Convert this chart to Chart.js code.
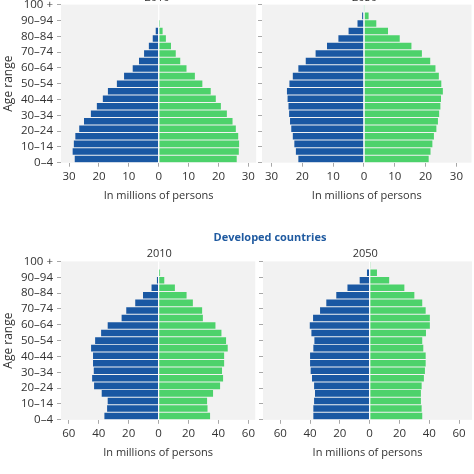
<!DOCTYPE html>
<html>
<head>
<meta charset="utf-8">
<script src="https://cdn.jsdelivr.net/npm/chart.js@4/dist/chart.umd.min.js"></script>
<style>
html,body{margin:0;padding:0;background:#fff;}
#wrap{position:relative;width:474px;height:474px;overflow:hidden;background:#fff;}
#wrap canvas{position:absolute;}
#heading{position:absolute;left:170px;top:229px;width:200px;text-align:center;font:bold 11px 'Open Sans',sans-serif;color:#1f5aa0;line-height:16px;white-space:nowrap;}
</style>
</head>
<body>
<div id="wrap">
  <canvas id="tl"></canvas>
  <canvas id="tr"></canvas>
  <canvas id="bl"></canvas>
  <canvas id="br"></canvas>
  <div id="heading">Developed countries</div>
</div>
<script>
// ---- Data (ordered from youngest to oldest age group) ----
const ageGroups = ['0–4','5–9','10–14','15–19','20–24','25–29','30–34','35–39','40–44','45–49',
                   '50–54','55–59','60–64','65–69','70–74','75–79','80–84','85–89','90–94','95–99','100 +'];

// Top row, 2010 (millions of persons)
const top2010Male   = [28.1, 28.8, 28.4, 27.9, 26.6, 25.0, 22.7, 20.7, 18.7, 17.0, 14.0, 11.6, 8.7, 6.6, 4.9, 3.3, 2.0, 1.0, 0, 0, 0];
const top2010Female = [26.1, 26.8, 26.9, 26.6, 25.8, 24.7, 22.8, 20.8, 19.1, 17.4, 14.6, 12.1, 9.3, 7.2, 5.7, 4.1, 2.4, 1.3, 0.4, 0, 0];
// Top row, 2050
const top2050Male   = [21.3, 22.1, 22.6, 23.1, 23.6, 24.0, 24.3, 24.5, 24.8, 25.0, 24.2, 23.1, 21.3, 18.9, 15.7, 12.0, 8.3, 5.0, 2.1, 0.6, 0.1];
const top2050Female = [21.0, 21.6, 22.2, 22.7, 23.5, 24.0, 24.4, 24.8, 25.0, 25.6, 25.1, 24.3, 23.2, 21.5, 18.8, 15.4, 11.6, 7.8, 4.0, 1.5, 0.3];
// Developed countries, 2010
const dev2010Male   = [36.2, 34.4, 34.0, 38.0, 43.1, 44.4, 43.3, 43.8, 43.8, 45.1, 42.4, 38.4, 34.0, 24.7, 21.6, 15.6, 10.4, 4.7, 1.1, 0, 0];
const dev2010Female = [34.4, 32.7, 32.4, 36.4, 41.1, 43.1, 42.4, 43.8, 43.8, 46.2, 45.1, 42.0, 38.0, 29.6, 29.1, 22.9, 18.7, 10.9, 3.8, 1.0, 0];
// Developed countries, 2050
const dev2050Male   = [37.8, 37.8, 37.3, 36.7, 37.3, 38.7, 39.6, 40.0, 40.0, 37.8, 37.1, 39.1, 40.2, 38.0, 33.3, 29.1, 22.4, 14.9, 6.7, 1.8, 0];
const dev2050Female = [35.3, 34.9, 34.4, 34.4, 34.9, 36.4, 37.1, 37.6, 37.6, 36.0, 35.3, 37.8, 40.4, 40.4, 37.6, 35.3, 30.0, 23.3, 13.1, 4.9, 0.5];

// Tick labels
const xTicksTop    = [-30, -20, -10, 0, 10, 20, 30];
const xTicksBottom = [-60, -40, -20, 0, 20, 40, 60];
const xAxisTitle = 'In millions of persons';
const yAxisTitle = 'Age range';

// ---- Styles ----
const BLUE = '#1a58a3';
const GREEN = '#4dd26b';
const PLOT_BG = '#f2f2f2';
const TXT = '#333333';
const TICKC = '#a8a8a8';
Chart.defaults.font.family = "'Open Sans', sans-serif";
Chart.defaults.color = TXT;

const panelPlugin = {
  id: 'panelTitle',
  beforeDraw(chart) {
    const a = chart.chartArea, ctx = chart.ctx;
    ctx.save();
    ctx.fillStyle = PLOT_BG;
    ctx.fillRect(a.left, a.top, a.right - a.left, a.bottom - a.top);
    ctx.restore();
  },
  afterDatasetsDraw(chart) {
    const a = chart.chartArea, ctx = chart.ctx;
    const x0 = chart.scales.x.getPixelForValue(0);
    ctx.save();
    ctx.strokeStyle = '#ffffff';
    ctx.lineWidth = 1.2;
    ctx.beginPath();
    ctx.moveTo(x0, a.top);
    ctx.lineTo(x0, a.bottom);
    ctx.stroke();
    ctx.restore();
  },
  afterDraw(chart, args, opts) {
    const a = chart.chartArea, ctx = chart.ctx;
    ctx.save();
    ctx.font = "11px 'Open Sans', sans-serif";
    ctx.fillStyle = TXT;
    ctx.textAlign = 'center';
    ctx.textBaseline = 'middle';
    ctx.fillText(opts.text, opts.cx, a.top - opts.gap);
    ctx.restore();
  }
};

function makePanel(p) {
  const canvas = document.getElementById(p.id);
  canvas.width = p.w; canvas.height = p.h;
  canvas.style.left = p.left + 'px'; canvas.style.top = p.top + 'px';
  canvas.style.width = p.w + 'px'; canvas.style.height = p.h + 'px';
  const yw = p.showLabels ? 61 : 4;
  const xh = 42;
  new Chart(canvas, {
    type: 'bar',
    data: {
      labels: ageGroups,
      datasets: [
        { label: 'Male', data: p.male.map(v => -v), backgroundColor: BLUE, yAxisID: 'yb',
          barPercentage: 0.87, categoryPercentage: 1, borderWidth: 0 },
        { label: 'Female', data: p.female, backgroundColor: GREEN, yAxisID: 'yb',
          barPercentage: 0.87, categoryPercentage: 1, borderWidth: 0 }
      ]
    },
    options: {
      indexAxis: 'y',
      responsive: false,
      animation: false,
      devicePixelRatio: 1,
      layout: { padding: {
        left: p.plot.l - p.left - yw,
        top: p.plot.t - p.top,
        right: p.left + p.w - p.plot.r,
        bottom: p.top + p.h - p.plot.b - xh } },
      plugins: {
        legend: { display: false },
        tooltip: { enabled: false },
        title: { display: false },
        panelTitle: { text: p.title, cx: p.titleX - p.left, gap: p.titleGap }
      },
      scales: {
        x: {
          type: 'linear', position: 'bottom', min: p.xmin, max: p.xmax, stacked: true,
          afterBuildTicks: s => { s.ticks = p.xticks.map(v => ({ value: v })); },
          afterFit: s => { s.height = xh; },
          grid: { drawOnChartArea: false, drawTicks: true, tickLength: 4, color: TICKC },
          border: { display: false },
          ticks: { color: TXT, font: { size: 11.5 }, padding: 3, maxRotation: 0, autoSkip: false,
                   callback: v => String(Math.abs(v)) },
          title: { display: true, text: xAxisTitle, color: TXT, font: { size: 11 }, padding: { top: 0, bottom: 2 } }
        },
        y: {
          type: 'category', position: 'left', reverse: true, offset: false,
          grid: { offset: false, drawOnChartArea: false, drawTicks: true, tickLength: 4,
                  color: c => (c.index % 2 === 0 ? TICKC : 'rgba(0,0,0,0)') },
          border: { display: false },
          afterFit: s => { s.width = yw; },
          ticks: { autoSkip: false, color: TXT, font: { size: 11.5 }, padding: 4,
                   callback: (v, i) => (p.showLabels && i % 2 === 0) ? ageGroups[i] : '' },
          title: { display: p.showLabels, text: yAxisTitle, color: TXT, font: { size: 12 }, padding: { top: 1, bottom: 0 } }
        },
        yb: { type: 'category', axis: 'y', display: false, reverse: true, offset: true, stacked: true }
      }
    },
    plugins: [panelPlugin]
  });
}

makePanel({ id: 'tl', left: 0, top: -30, w: 258, h: 240,
  plot: { l: 61, r: 256.7, t: 4.6, b: 162.7 }, xmin: -32.7, xmax: 32.6, xticks: xTicksTop,
  male: top2010Male, female: top2010Female, title: '2010', titleX: 157, titleGap: 6.5, showLabels: true });
makePanel({ id: 'tr', left: 258, top: -30, w: 216, h: 240,
  plot: { l: 262, r: 471.5, t: 4.6, b: 162.7 }, xmin: -33.1, xmax: 34.9, xticks: xTicksTop,
  male: top2050Male, female: top2050Female, title: '2050', titleX: 364.5, titleGap: 6.5, showLabels: false });
makePanel({ id: 'bl', left: 0, top: 240, w: 258, h: 234,
  plot: { l: 61, r: 256.7, t: 261.4, b: 419.8 }, xmin: -65.2, xmax: 64.6, xticks: xTicksBottom,
  male: dev2010Male, female: dev2010Female, title: '2010', titleX: 159.3, titleGap: 7.4, showLabels: true });
makePanel({ id: 'br', left: 259, top: 240, w: 215, h: 234,
  plot: { l: 263, r: 472, t: 261.4, b: 419.8 }, xmin: -71.6, xmax: 68.7, xticks: xTicksBottom,
  male: dev2050Male, female: dev2050Female, title: '2050', titleX: 365.3, titleGap: 7.4, showLabels: false });
</script>
</body>
</html>
